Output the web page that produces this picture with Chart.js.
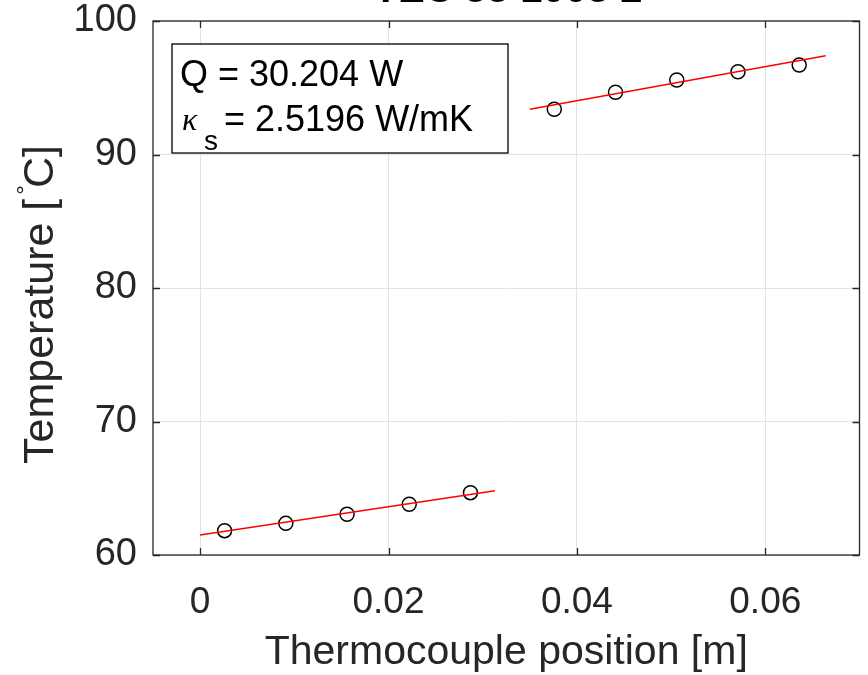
<!DOCTYPE html>
<html>
<head>
<meta charset="utf-8">
<script src="https://cdn.jsdelivr.net/npm/chart.js@4/dist/chart.umd.min.js"></script>
<style>
html,body{margin:0;padding:0;background:#fff;overflow:hidden}
#wrap{width:868px;height:675px;position:relative}
</style>
</head>
<body>
<div id="wrap"><canvas id="c" width="868" height="675"></canvas></div>
<script>
// ---- data ----
const titleText = 'TEC 33 1003 2';
const positions = [0.0026, 0.0091, 0.0156, 0.0222, 0.0287, 0.0376, 0.0441, 0.0506, 0.0571, 0.0636];
const temperatures = [61.82, 62.37, 63.05, 63.80, 64.67, 93.39, 94.66, 95.58, 96.20, 96.70];
const fitLowX = [0, 0.0313];
const fitLowY = [61.5, 64.82];
const fitHighX = [0.035, 0.0664];
const fitHighY = [93.39, 97.4];
const xTicks = [0, 0.02, 0.04, 0.06];
const yTicks = [60, 70, 80, 90, 100];
const xRange = [-0.005, 0.07];
const yRange = [60, 100];
const heatText = 'Q = 30.204 W';
const kappaValue = '= 2.5196 W/mK';
const xLabel = 'Thermocouple position [m]';
const yLabelMain = 'Temperature [';
const yLabelEnd = 'C]';

const FONT = '"Liberation Sans", Arial, sans-serif';
const AX = '#262626';

const toXY = (xs, ys) => xs.map((x, i) => ({x: x, y: ys[i]}));

const decor = {
  id: 'decor',
  afterDraw(chart) {
    const ctx = chart.ctx;
    const a = chart.chartArea;
    const xs = chart.scales.x, ys = chart.scales.y;
    ctx.save();
    // box
    ctx.strokeStyle = AX;
    ctx.lineWidth = 1.3;
    ctx.strokeRect(a.left, a.top, a.right - a.left, a.bottom - a.top);
    // inward ticks
    const tl = 7;
    ctx.beginPath();
    xTicks.forEach(v => {
      const px = Math.round(xs.getPixelForValue(v)) + 0.5;
      ctx.moveTo(px, a.bottom); ctx.lineTo(px, a.bottom - tl);
      ctx.moveTo(px, a.top); ctx.lineTo(px, a.top + tl);
    });
    yTicks.forEach(v => {
      const py = Math.round(ys.getPixelForValue(v)) + 0.5;
      ctx.moveTo(a.left, py); ctx.lineTo(a.left + tl, py);
      ctx.moveTo(a.right, py); ctx.lineTo(a.right - tl, py);
    });
    ctx.stroke();

    // annotation box
    const bx = 172, by = 44, bw = 336, bh = 109;
    ctx.fillStyle = '#fff';
    ctx.fillRect(bx, by, bw, bh);
    ctx.strokeStyle = '#000';
    ctx.lineWidth = 1.3;
    ctx.strokeRect(bx, by, bw, bh);
    ctx.fillStyle = '#000';
    ctx.textAlign = 'left';
    ctx.textBaseline = 'alphabetic';
    ctx.font = '36px ' + FONT;
    ctx.fillText(heatText, 180, 86);
    ctx.font = 'italic 32px "Liberation Serif", serif';
    ctx.fillText('κ', 182, 130);
    ctx.font = '28px ' + FONT;
    ctx.fillText('s', 204, 150);
    ctx.font = '36px ' + FONT;
    ctx.fillText(kappaValue, 224, 131);

    // title (cut off at top, as in the reference)
    ctx.font = 'bold 40px ' + FONT;
    ctx.textAlign = 'center';
    ctx.fillStyle = '#000';
    ctx.fillText(titleText, 508, 2);

    // y axis title
    ctx.translate(53, 464);
    ctx.rotate(-Math.PI / 2);
    ctx.textAlign = 'left';
    ctx.fillStyle = AX;
    ctx.font = '43px ' + FONT;
    let x = 0;
    ctx.fillText(yLabelMain, x, 0);
    x += ctx.measureText(yLabelMain).width + 4;
    ctx.font = '24px ' + FONT;
    ctx.fillText('°', x, -20);
    x += ctx.measureText('°').width * 0.7;
    ctx.font = '43px ' + FONT;
    ctx.fillText(yLabelEnd, x, 0);
    ctx.restore();
  }
};

new Chart(document.getElementById('c'), {
  type: 'scatter',
  data: {
    datasets: [
      {
        label: 'fit low', data: toXY(fitLowX, fitLowY), showLine: true,
        borderColor: '#ff0000', borderWidth: 1.5, pointRadius: 0, fill: false, order: 0
      },
      {
        label: 'fit high', data: toXY(fitHighX, fitHighY), showLine: true,
        borderColor: '#ff0000', borderWidth: 1.5, pointRadius: 0, fill: false, order: 0
      },
      {
        label: 'measured', data: toXY(positions, temperatures), showLine: false,
        pointStyle: 'circle', pointRadius: 7, pointBorderWidth: 1.5,
        borderColor: '#000', pointBorderColor: '#000', backgroundColor: 'rgba(0,0,0,0)',
        pointBackgroundColor: 'rgba(0,0,0,0)', order: 1
      }
    ]
  },
  options: {
    responsive: false,
    animation: false,
    devicePixelRatio: 1,
    layout: {padding: {top: 21, right: 5, left: 0, bottom: 0}},
    plugins: {legend: {display: false}, tooltip: {enabled: false}, title: {display: false}},
    scales: {
      x: {
        type: 'linear', min: xRange[0], max: xRange[1],
        afterBuildTicks: s => { s.ticks = xTicks.map(v => ({value: v})); },
        afterFit: s => { s.height = 120; s.paddingLeft = 0; s.paddingRight = 0; s.paddingTop = 0; s.paddingBottom = 0; },
        grid: {color: '#e2e2e2', lineWidth: 1, drawTicks: false},
        border: {display: false},
        ticks: {font: {family: FONT, size: 37, lineHeight: 1}, color: AX, padding: 29, callback: v => String(v)},
        title: {display: true, text: xLabel, color: AX, font: {family: FONT, size: 41, lineHeight: 1.1}, padding: {top: 0, bottom: 0}}
      },
      y: {
        type: 'linear', min: yRange[0], max: yRange[1],
        afterBuildTicks: s => { s.ticks = yTicks.map(v => ({value: v})); },
        afterFit: s => { s.width = 153; s.paddingLeft = 0; s.paddingRight = 0; s.paddingTop = 0; s.paddingBottom = 0; },
        grid: {color: '#e2e2e2', lineWidth: 1, drawTicks: false},
        border: {display: false},
        ticks: {font: {family: FONT, size: 38, lineHeight: 1}, color: AX, padding: 16, callback: v => String(v)},
        title: {display: false}
      }
    }
  },
  plugins: [decor]
});
</script>
</body>
</html>
